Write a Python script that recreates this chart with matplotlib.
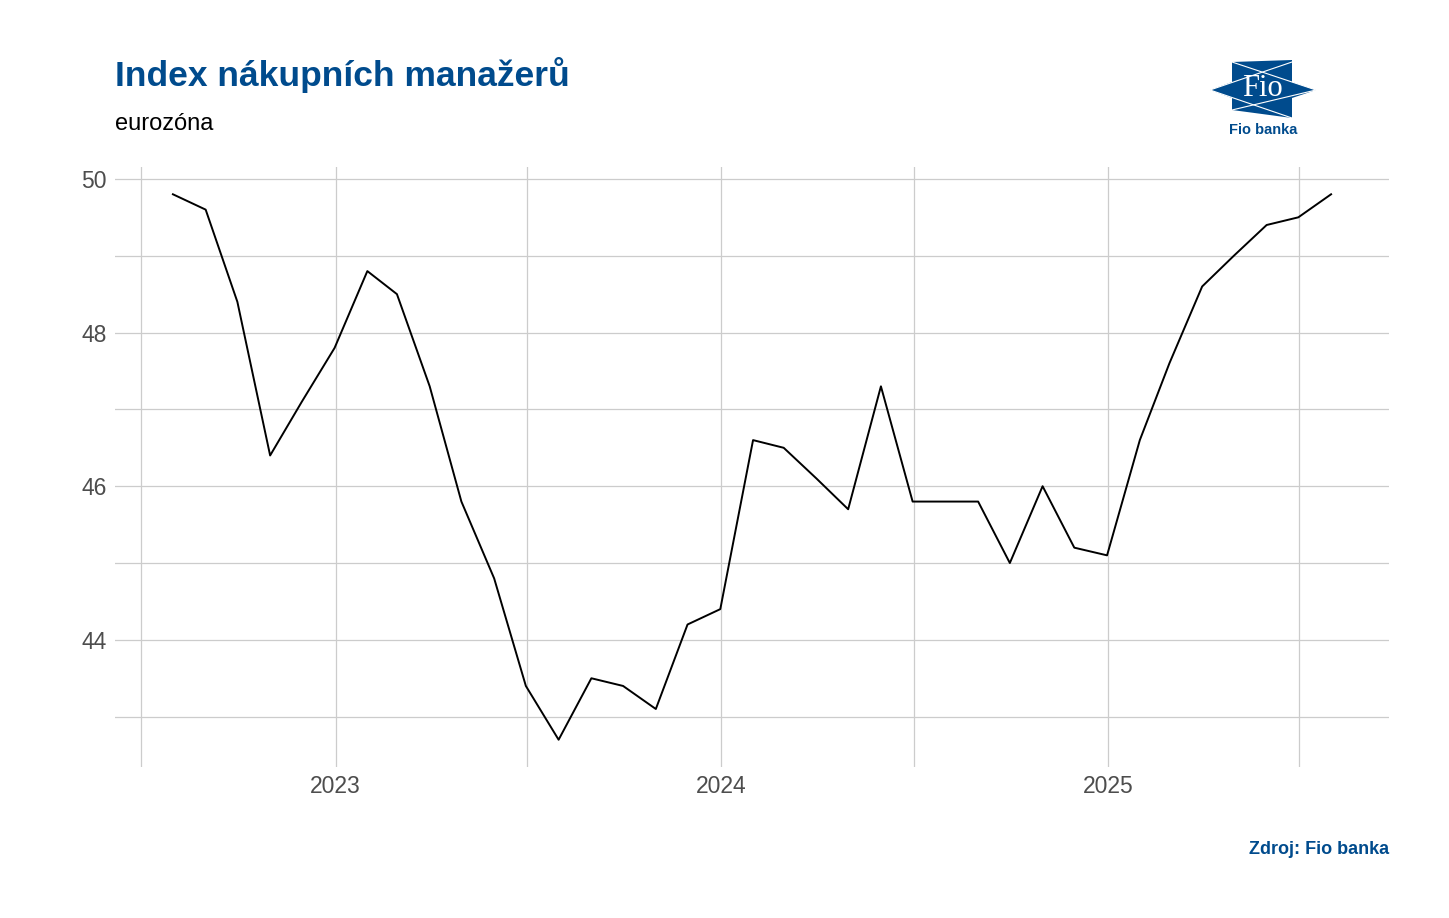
import numpy as np
import pandas as pd
import matplotlib
matplotlib.use("Agg")
import matplotlib.pyplot as plt
import matplotlib.dates as mdates
from matplotlib.patches import Polygon

plt.rcParams['font.family'] = ['Liberation Sans', 'DejaVu Sans']

# eurozone manufacturing PMI, monthly (plotted at month end)
dates = pd.date_range('2022-07-31', periods=37, freq='ME')
pmi = [49.8, 49.6, 48.4, 46.4, 47.1, 47.8, 48.8, 48.5, 47.3, 45.8, 44.8, 43.4,
       42.7, 43.5, 43.4, 43.1, 44.2, 44.4, 46.6, 46.5, 46.1, 45.7, 47.3, 45.8,
       45.8, 45.8, 45.0, 46.0, 45.2, 45.1, 46.6, 47.6, 48.6, 49.0, 49.4, 49.5,
       49.8]
year_ticks = ['2023', '2024', '2025']
y_ticks = [44, 46, 48, 50]

W, H = 1449, 918
blue = '#004B8D'
grid_c = '#cccccc'

fig = plt.figure(figsize=(W / 100, H / 100), dpi=100)
ax = fig.add_axes([115 / W, (H - 767) / H, 1274 / W, 600 / H])

ax.plot(dates, pmi, color='black', lw=1.4)

x0, x1 = mdates.date2num(dates[0]), mdates.date2num(dates[-1])
pad = (x1 - x0) * 0.05
ax.set_xlim(x0 - pad, x1 + pad)
ymin, ymax = min(pmi), max(pmi)
ypad = (ymax - ymin) * 0.05
ax.set_ylim(ymin - ypad, ymax + ypad)

ax.set_xticks([mdates.date2num(pd.Timestamp(y + '-01-01')) for y in year_ticks])
ax.set_xticklabels(year_ticks)
ax.set_xticks([mdates.date2num(pd.Timestamp(f'{y}-07-01')) for y in range(2022, 2026)], minor=True)
ax.set_yticks(y_ticks)
ax.set_yticklabels([str(v) for v in y_ticks])
ax.set_yticks([43, 45, 47, 49], minor=True)

ax.grid(True, which='both', color=grid_c, lw=0.9)
ax.set_axisbelow(True)
for s in ax.spines.values():
    s.set_visible(False)
ax.tick_params(which='both', length=0, labelsize=16.5, labelcolor='#4d4d4d')
ax.tick_params(axis='x', pad=6)
ax.tick_params(axis='y', pad=6)

fig.text(115 / W, 1 - 75 / H, 'Index nákupních manažerů', fontsize=25.5, fontweight='bold',
         color=blue, va='center', ha='left')
fig.text(115 / W, 1 - 124 / H, 'eurozóna', fontsize=17, color='black', va='center', ha='left')
fig.text(1389 / W, 1 - 849 / H, 'Zdroj: Fio banka', fontsize=13, fontweight='bold',
         color=blue, va='center', ha='right')

# logo
lg = fig.add_axes([1200 / W, 1 - 145 / H, 130 / W, 95 / H])
lg.set_xlim(1200, 1330)
lg.set_ylim(145, 50)
lg.axis('off')
lg.add_patch(Polygon([(1232, 62), (1292, 60), (1292, 82), (1316, 90), (1292, 98),
                      (1292, 118), (1232, 110), (1232, 98), (1210, 90), (1232, 82)],
                     closed=True, facecolor=blue, edgecolor='none'))
for seg in [[(1210, 90), (1292, 62)], [(1210, 90), (1292, 118)],
            [(1232, 62), (1316, 90)], [(1232, 110), (1316, 90)]]:
    xs, ys = zip(*seg)
    lg.plot(xs, ys, color='white', lw=0.8)
lg.add_patch(Polygon([(1241, 77), (1284, 74), (1284, 100), (1241, 103)],
                     closed=True, facecolor=blue, edgecolor='none'))
lg.text(1262, 89, 'Fio', fontsize=22, color='white', family='Liberation Serif',
        ha='center', va='center')
lg.text(1263, 130, 'Fio banka', fontsize=10.5, color=blue, fontweight='bold',
        ha='center', va='center')

fig.savefig('out.png', dpi=100)
